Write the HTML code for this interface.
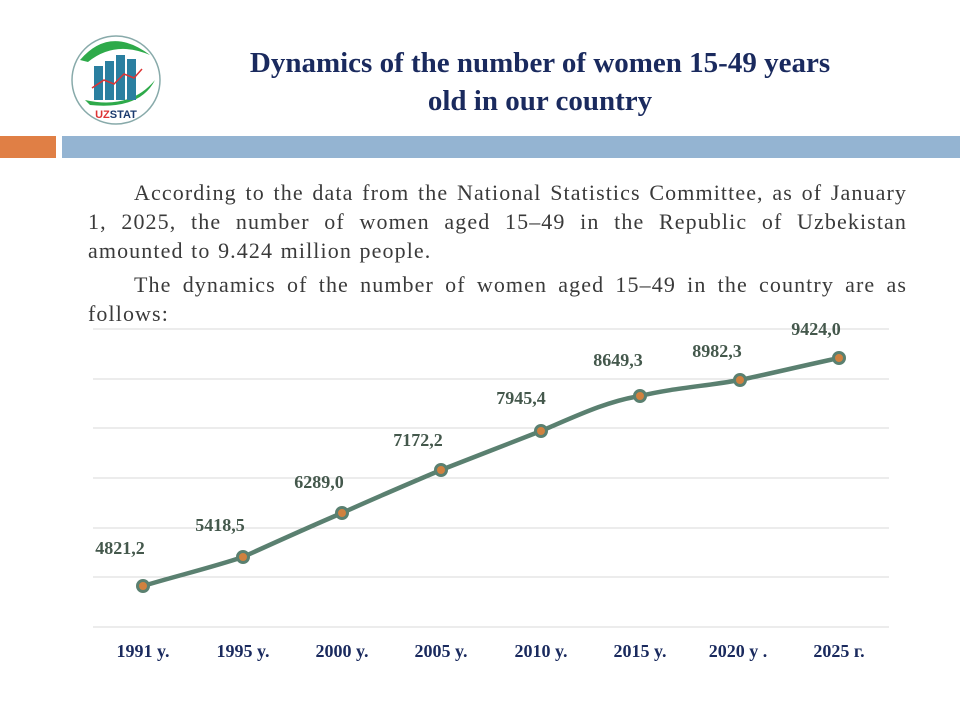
<!DOCTYPE html>
<html><head><meta charset="utf-8"><style>
body{margin:0;width:960px;height:720px;background:#fff;position:relative;overflow:hidden;font-family:"Liberation Serif",serif}
.t{position:absolute;left:180px;width:720px;top:44px;text-align:center;font-weight:bold;font-size:29px;line-height:38px;color:#1a2a5e}
.p{position:absolute;left:88px;width:819px;font-size:22px;letter-spacing:1.1px;word-spacing:1px;line-height:29px;color:#3a3a3a;text-align:justify;text-indent:46px}
</style></head><body>
<svg style="position:absolute;left:0;top:0" width="960" height="720">
<circle cx="116" cy="80" r="44" fill="#fff" stroke="#8aa" stroke-width="1.5"/>
<path d="M80 60 Q110 25 150 55 Q115 40 88 62Z" fill="#2eaa4a"/>
<path d="M85 100 Q130 110 155 80 Q140 110 90 105Z" fill="#2eaa4a"/>
<rect x="94" y="66" width="9" height="34" fill="#2a7fa0"/><rect x="105" y="61" width="9" height="39" fill="#2a7fa0"/>
<rect x="116" y="55" width="9" height="45" fill="#2a7fa0"/><rect x="127" y="59" width="9" height="41" fill="#2a7fa0"/>
<polyline points="92,88 104,80 114,84 124,74 134,78 142,69" fill="none" stroke="#d33" stroke-width="1.5"/>
<text x="116" y="118" text-anchor="middle" font-family="Liberation Sans" font-weight="bold" font-size="11"><tspan fill="#d33">UZ</tspan><tspan fill="#1a3a6e">STAT</tspan></text>
<rect x="0" y="136" width="56" height="22" fill="#e07f45"/>
<rect x="62" y="136" width="898" height="22" fill="#94b4d2"/>
<g stroke="#d9d9d9" stroke-width="1">
<line x1="93" x2="889" y1="329" y2="329"/><line x1="93" x2="889" y1="379" y2="379"/><line x1="93" x2="889" y1="428" y2="428"/>
<line x1="93" x2="889" y1="478" y2="478"/><line x1="93" x2="889" y1="528" y2="528"/><line x1="93" x2="889" y1="577" y2="577"/><line x1="93" x2="889" y1="627" y2="627"/>
</g>
<path d="M143 586 C176 576 210 568 243 557 C276 542 309 527 342 513 C375 498 408 484 441 470 C474 457 508 444 541 431 C574 417 607 401 640 396 C673 388 707 386 740 380 C773 373 806 365 839 358" fill="none" stroke="#5a8070" stroke-width="4.5"/>
<g fill="#d0813f" stroke="#5a8070" stroke-width="3">
<circle cx="143" cy="586" r="5.5"/><circle cx="243" cy="557" r="5.5"/><circle cx="342" cy="513" r="5.5"/><circle cx="441" cy="470" r="5.5"/>
<circle cx="541" cy="431" r="5.5"/><circle cx="640" cy="396" r="5.5"/><circle cx="740" cy="380" r="5.5"/><circle cx="839" cy="358" r="5.5"/>
</g>
<g font-family="Liberation Serif" font-weight="bold" font-size="18" fill="#44584c" text-anchor="middle">
<text x="120" y="554">4821,2</text><text x="220" y="531">5418,5</text><text x="319" y="488">6289,0</text><text x="418" y="446">7172,2</text>
<text x="521" y="404">7945,4</text><text x="618" y="366">8649,3</text><text x="717" y="357">8982,3</text><text x="816" y="335">9424,0</text>
</g>
<g font-family="Liberation Serif" font-weight="bold" font-size="18" fill="#1a2a5e" text-anchor="middle">
<text x="143" y="657">1991 y.</text><text x="243" y="657">1995 y.</text><text x="342" y="657">2000 y.</text><text x="441" y="657">2005 y.</text>
<text x="541" y="657">2010 y.</text><text x="640" y="657">2015 y.</text><text x="738" y="657">2020 y .</text><text x="839" y="657">2025 г.</text>
</g>
</svg>
<div class="t">Dynamics of the number of women 15-49 years<br>old in our country</div>
<div class="p" style="top:178px">According to the data from the National Statistics Committee, as of January 1, 2025, the number of women aged 15–49 in the Republic of Uzbekistan amounted to 9.424 million people.</div>
<div class="p" style="top:270px">The dynamics of the number of women aged 15–49 in the country are as follows:</div>
</body></html>
